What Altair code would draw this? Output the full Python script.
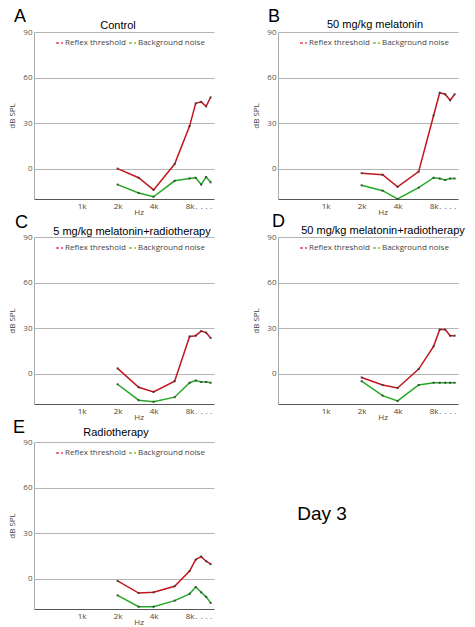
import altair as alt
import pandas as pd

FREQ = [2000, 3000, 4000, 6000, 8000, 9000, 10000, 11000, 12000]
SERIES = ["Reflex threshold", "Background noise"]
LETTERS = ["A", "B", "C", "D", "E"]
TITLES = ["Control", "50 mg/kg melatonin", "5 mg/kg melatonin+radiotherapy",
          "50 mg/kg melatonin+radiotherapy", "Radiotherapy"]

REFLEX_A = [0, -6, -14, 3, 28, 43, 44, 41, 47]
NOISE_A = [-10.5, -16, -18.5, -8, -6.5, -6, -10.5, -5.5, -9]
REFLEX_B = [-3, -4, -12, -2, 35, 50, 49, 45, 49]
NOISE_B = [-11, -14.5, -20, -12.5, -6, -6.5, -7.5, -6.5, -6.5]
REFLEX_C = [3.5, -9, -12, -5, 24.5, 25, 28, 27, 23.5]
NOISE_C = [-7, -17.5, -18.5, -15.5, -6, -4.5, -5.5, -5.5, -6]
REFLEX_D = [-2.5, -7.5, -9.5, 3, 18, 29, 29, 25, 25]
NOISE_D = [-5, -14.5, -18, -7.5, -6, -6, -6, -6, -6]
REFLEX_E = [-1.5, -9.5, -9, -5, 5, 12.5, 14.5, 11.5, 9.5]
NOISE_E = [-11, -18.5, -18.5, -14.5, -10, -5.5, -9, -12, -16]

X_TICKS = [1000, 2000, 4000, 8000, 9000, 10000, 11000, 12000]
Y_TICKS = [0, 30, 60, 90]

REFLEX = [REFLEX_A, REFLEX_B, REFLEX_C, REFLEX_D, REFLEX_E]
NOISE = [NOISE_A, NOISE_B, NOISE_C, NOISE_D, NOISE_E]

W, H = 180, 167
RED, GREEN = "#c2161e", "#24a826"
RED_L, GREEN_L = "#ee4458", "#7cc242"
FONT = "Liberation Sans"
LFONT = "Open Sans"

# per-panel annotation offsets: (letter_x, letter_baseline, title_center_dx, title_baseline)
ANNOT = [(-20, -10, -6, -3), (-10, -10, 7, -4), (-19, -9, 8, -2), (-6, -10, 15, -3), (-21, -9, -8, -6)]

one = pd.DataFrame({"k": [0]})


def txt(text, x, y, size, align="left", color="#000", font=FONT, baseline="alphabetic"):
    return alt.Chart(one).mark_text(
        text=text, align=align, baseline=baseline, fontSize=size, font=font, color=color
    ).encode(x=alt.value(x), y=alt.value(y))


def dash(color, x1, x2, y):
    return alt.Chart(one).mark_rule(color=color, strokeDash=[3, 2], strokeWidth=1.3).encode(
        x=alt.value(x1), x2=alt.value(x2), y=alt.value(y))


def panel(i):
    rows = []
    for f, r, n in zip(FREQ, REFLEX[i], NOISE[i]):
        rows.append({"freq": f, "db": r, "series": SERIES[0]})
        rows.append({"freq": f, "db": n, "series": SERIES[1]})
    df = pd.DataFrame(rows)

    x = alt.X("freq:Q",
              scale=alt.Scale(type="log", domain=[400, 12800], nice=False),
              axis=alt.Axis(values=X_TICKS,
                            labelExpr="datum.value == 1000 ? '1k' : datum.value == 2000 ? '2k' : datum.value == 4000 ? '4k' : datum.value == 8000 ? '8k' : '.'",
                            grid=False, ticks=False, domainColor="#555", domainWidth=1,
                            labelFont=LFONT, labelFontSize=8, labelColor="#444", labelPadding=3,
                            title="Hz", titleFont=LFONT, titleFontSize=8, titleFontWeight="normal",
                            titleColor="#444", titleX=104.6, titleY=13, titleBaseline="middle",
                            titleAlign="center"))
    y = alt.Y("db:Q",
              scale=alt.Scale(domain=[-20, 90], nice=False, zero=False),
              axis=alt.Axis(values=Y_TICKS, grid=True, gridColor="#b4b4b4", gridWidth=1,
                            ticks=False, domainColor="#aaaaaa", domainWidth=1,
                            labelFont=LFONT, labelFontSize=8, labelColor="#555", labelPadding=2,
                            title="dB SPL", titleFont=LFONT, titleFontSize=8,
                            titleFontWeight="normal", titleColor="#444", titlePadding=6))
    color = alt.Color("series:N", scale=alt.Scale(domain=SERIES, range=[RED, GREEN]), legend=None)

    lines = alt.Chart(df).mark_line(strokeWidth=1.5).encode(x=x, y=y, color=color)
    pts = alt.Chart(df).mark_square(size=4, color="#333333", opacity=0.8).encode(x=x, y=y)

    lx, lb, tdx, tb = ANNOT[i]
    layers = [
        lines, pts,
        dash(RED_L, 22, 29, 11),
        txt(SERIES[0], 31, 11, 8, color="#444", font=LFONT, baseline="middle"),
        dash(GREEN_L, 95, 102, 11),
        txt(SERIES[1], 104, 11, 8, color="#444", font=LFONT, baseline="middle"),
        txt(LETTERS[i], lx, lb, 18),
        txt(TITLES[i], W / 2 + tdx, tb, 11, align="center"),
    ]
    if i == 4:
        layers.append(txt("Day 3", 288, 78, 19, align="center"))
    return alt.layer(*layers).properties(width=W, height=H)


chart = alt.concat(
    *[panel(i) for i in range(5)],
    columns=2,
    spacing={"row": 38, "column": 64},
    bounds="flush",
).properties(
    padding={"left": 0, "top": 0, "right": 2, "bottom": 2}
).configure_view(strokeWidth=0)

chart.save("out.html", embed_options={"renderer": "svg", "actions": False})
